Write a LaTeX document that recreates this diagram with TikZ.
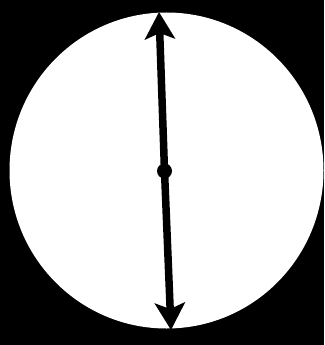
\documentclass[tikz,border=0pt]{standalone}
\usetikzlibrary{arrows.meta}
\begin{document}
\begin{tikzpicture}[x=1pt,y=-1pt,
  arrowline/.style={line width=7.5pt,-{Stealth[length=27pt,width=30pt,inset=6pt]}}]
\fill[black] (0,0) rectangle (324,345);
\useasboundingbox (0,0) rectangle (324,345);
\fill[white] (166.5,170.5) ellipse [x radius=157,y radius=158];
\coordinate (c) at (164.5,171);
\coordinate (top) at (159,12);
\coordinate (bot) at (171,330);
\draw[arrowline] (c) -- (top);
\draw[arrowline] (c) -- (bot);
\fill[black] (c) circle (7.5);
\end{tikzpicture}
\end{document}
